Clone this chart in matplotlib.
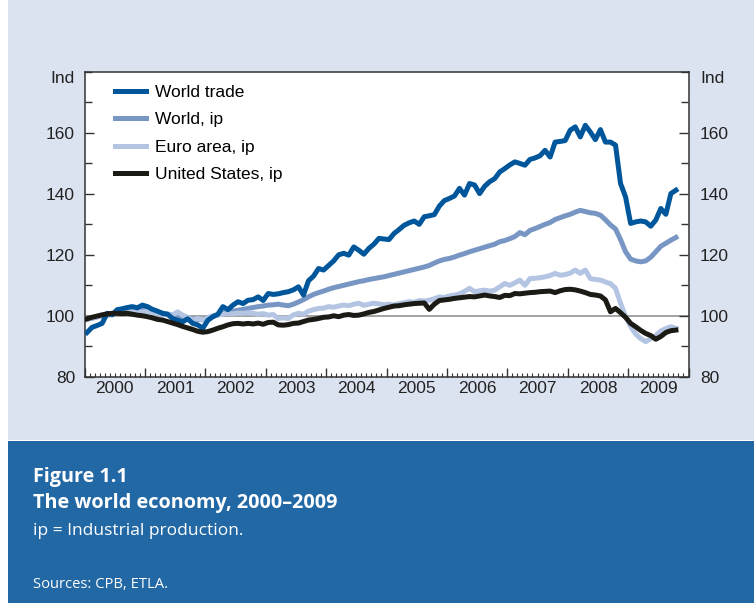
import numpy as np
import matplotlib
matplotlib.use("Agg")
import matplotlib.pyplot as plt
from matplotlib.patches import Rectangle
from matplotlib.ticker import MultipleLocator

plt.rcParams['font.family'] = ['Liberation Sans', 'DejaVu Sans']

# monthly index values, Jan 2000 - Oct 2009
world_trade = [
    94.5, 96.2, 96.8, 97.5, 100.8, 100.3, 102.0, 102.3, 102.7, 103.0, 102.6, 103.5,   # 2000
    103.0, 102.1, 101.5, 100.8, 100.5, 99.1, 98.5, 98.0, 99.0, 97.5, 97.0, 95.9,      # 2001
    98.5, 99.7, 100.5, 103.0, 102.0, 103.5, 104.6, 104.0, 105.1, 105.3, 106.2, 105.0, # 2002
    107.3, 107.0, 107.2, 107.6, 107.9, 108.5, 109.5, 106.8, 111.5, 113.0, 115.5, 115.0,  # 2003
    116.5, 118.0, 120.0, 120.5, 119.9, 122.6, 121.5, 120.2, 122.1, 123.5, 125.4, 125.2,  # 2004
    125.0, 127.0, 128.3, 129.7, 130.5, 131.1, 130.0, 132.5, 132.8, 133.2, 136.0, 137.8,  # 2005
    138.5, 139.3, 141.8, 139.6, 143.4, 142.9, 140.1, 142.5, 144.0, 145.0, 147.2, 148.3,  # 2006
    149.5, 150.5, 150.0, 149.4, 151.3, 151.8, 152.5, 154.3, 152.1, 157.0, 157.2, 157.5,  # 2007
    160.9, 162.0, 158.7, 162.5, 160.3, 157.8, 161.1, 157.0, 157.0, 156.0, 143.4, 139.0,  # 2008
    130.3, 130.8, 131.1, 130.8, 129.4, 131.4, 135.2, 133.3, 140.1, 141.2,                # 2009
]
world_ip = [
    98.8, 99.2, 99.6, 100.0, 100.3, 100.6, 100.9, 101.2, 101.5, 101.7, 101.9, 102.0,
    101.8, 101.5, 101.2, 100.8, 100.5, 100.2, 99.8, 99.5, 99.2, 99.0, 98.8, 98.7,
    99.2, 99.7, 100.3, 100.8, 101.2, 101.5, 101.8, 102.1, 102.4, 102.7, 103.0, 103.2,
    103.5, 103.6, 103.8, 103.5, 103.3, 103.8, 104.5, 105.3, 106.2, 107.0, 107.6, 108.1,
    108.7, 109.2, 109.6, 110.0, 110.4, 110.8, 111.2, 111.5, 111.9, 112.2, 112.5, 112.8,
    113.2, 113.6, 114.0, 114.4, 114.8, 115.2, 115.6, 116.0, 116.5, 117.3, 118.0, 118.5,
    118.8, 119.3, 119.9, 120.4, 121.0, 121.5, 122.0, 122.5, 123.0, 123.5, 124.3, 124.7,
    125.3, 126.0, 127.3, 126.6, 128.0, 128.6, 129.3, 130.0, 130.6, 131.6, 132.2, 132.8,
    133.3, 134.0, 134.6, 134.2, 133.8, 133.6, 133.0, 131.5, 129.8, 128.5, 125.0, 121.0,
    118.6, 118.0, 117.7, 118.0, 119.2, 121.0, 122.8, 123.8, 124.8, 125.7,
]
euro_ip = [
    99.0, 99.3, 99.7, 100.2, 100.0, 100.5, 101.0, 101.5, 101.8, 101.3, 101.5, 101.2,
    101.5, 101.0, 100.8, 100.3, 100.6, 100.2, 101.3, 100.2, 99.5, 98.6, 99.1, 98.6,
    99.3, 100.0, 100.2, 100.5, 100.8, 100.6, 100.9, 100.8, 101.0, 100.8, 100.5, 100.7,
    100.2, 100.4, 99.1, 99.3, 99.1, 100.3, 100.8, 100.5, 101.5, 102.0, 102.4, 102.5,
    103.0, 102.8, 103.2, 103.5, 103.3, 103.8, 104.1, 103.4, 103.8, 104.1, 103.9, 103.6,
    103.8, 103.5, 104.0, 104.3, 104.6, 104.4, 105.0, 104.8, 105.1, 105.6, 106.2, 106.0,
    106.5, 106.8, 107.2, 108.0, 109.0, 107.9, 108.2, 108.4, 108.1, 108.4, 109.5, 110.6,
    110.0, 110.8, 111.7, 110.0, 112.2, 112.3, 112.5, 112.8, 113.2, 113.9, 113.3, 113.5,
    114.0, 115.0, 113.9, 115.0, 112.2, 111.9, 111.7, 111.1, 110.5, 109.0, 104.1, 99.7,
    96.5, 94.0, 92.5, 91.5, 92.5, 93.5, 95.0, 95.8, 96.4, 95.9,
]
us_ip = [
    99.0, 99.5, 99.9, 100.3, 100.6, 100.8, 100.8, 100.7, 100.8, 100.5, 100.2, 100.0,
    99.7, 99.3, 98.8, 98.6, 98.1, 97.6, 97.1, 96.5, 96.0, 95.5, 94.9, 94.6,
    94.8, 95.3, 95.9, 96.4, 97.0, 97.4, 97.5, 97.3, 97.5, 97.3, 97.6, 97.2,
    97.8, 97.9, 97.0, 96.9, 97.1, 97.5, 97.6, 98.1, 98.6, 98.8, 99.1, 99.5,
    99.6, 100.0, 99.7, 100.2, 100.4, 100.1, 100.2, 100.6, 101.1, 101.4, 101.9, 102.4,
    102.8, 103.2, 103.3, 103.6, 103.8, 104.0, 104.1, 104.2, 102.1, 103.8, 105.0, 105.2,
    105.4, 105.7, 105.9, 106.1, 106.3, 106.2, 106.5, 106.8, 106.5, 106.3, 106.0, 106.7,
    106.6, 107.3, 107.2, 107.4, 107.6, 107.7, 107.9, 108.0, 108.1, 107.6, 108.2, 108.6,
    108.7, 108.5, 108.1, 107.6, 107.0, 106.8, 106.5, 105.2, 101.3, 102.4, 101.0, 99.5,
    97.5, 96.4, 95.2, 94.2, 93.5, 92.3, 93.2, 94.5, 95.1, 95.3,
]
years = list(range(2000, 2010))
y_ticks = [80, 100, 120, 140, 160]

# x positions: mid-month in decimal years
months = np.arange(len(world_trade))
t = 2000 + (months + 0.5) / 12

c_trade = '#00569a'
c_world = '#7896c4'
c_euro = '#b3c5e3'
c_us = '#1c1a14'

fig = plt.figure(figsize=(7.54, 6.03), dpi=100)
fig.patches.append(Rectangle((8 / 754, 163 / 603), 1, 1, transform=fig.transFigure,
                             facecolor='#dce3f0', edgecolor='none', zorder=-10))
fig.patches.append(Rectangle((8 / 754, 0), 1, 162 / 603, transform=fig.transFigure,
                             facecolor='#2268a5', edgecolor='none', zorder=-10))

ax = fig.add_axes([84.5 / 754, 226.3 / 603, 604 / 754, 304.7 / 603])
ax.set_facecolor('white')

ax.axhline(100, color='#8a8a8a', lw=1.1, zorder=1)
lw = 3.6
l_world, = ax.plot(t, world_ip, color=c_world, lw=lw, solid_joinstyle='round', zorder=2)
l_euro, = ax.plot(t, euro_ip, color=c_euro, lw=lw, solid_joinstyle='round', zorder=3)
l_trade, = ax.plot(t, world_trade, color=c_trade, lw=lw, solid_joinstyle='round', zorder=4)
l_us, = ax.plot(t, us_ip, color=c_us, lw=lw, solid_joinstyle='round', zorder=5)

ax.set_xlim(2000, 2010)
ax.set_ylim(80, 180)

for s in ax.spines.values():
    s.set_color('#333333')
    s.set_linewidth(1.1)

# x axis: year boundary ticks, monthly minor ticks, labels mid-year
ax.set_xticks(years + [2010])
ax.xaxis.set_minor_locator(MultipleLocator(1 / 12))
ax.tick_params(axis='x', which='major', direction='in', length=6.5, width=1.0,
               color='#333333', labelbottom=False)
ax.tick_params(axis='x', which='minor', direction='in', length=3, width=0.8,
               color='#333333')
sec = ax.secondary_xaxis('bottom')
sec.set_xticks([y + 0.5 for y in years], labels=[str(y) for y in years])
sec.tick_params(length=0, pad=3, labelsize=12.5, colors='#222222')
sec.spines['bottom'].set_visible(False)

# y axes on both sides
ax.set_yticks(y_ticks)
ax.yaxis.set_minor_locator(MultipleLocator(10))
ax.tick_params(axis='y', which='major', direction='in', length=6.5, width=1.0,
               color='#333333', labelsize=12.5, labelcolor='#222222', pad=6.8)
ax.tick_params(axis='y', which='minor', direction='in', length=5, width=1.0,
               color='#333333')
ax2 = ax.twinx()
ax2.set_ylim(80, 180)
ax2.set_yticks(y_ticks)
ax2.yaxis.set_minor_locator(MultipleLocator(10))
ax2.tick_params(axis='y', which='major', direction='in', length=6.5, width=1.0,
                color='#333333', labelsize=12.5, labelcolor='#222222', pad=8.3)
ax2.tick_params(axis='y', which='minor', direction='in', length=5, width=1.0,
                color='#333333')
for s in ax2.spines.values():
    s.set_visible(False)

ax.text(-0.0157, 0.98, 'Ind', transform=ax.transAxes, ha='right', va='center',
        fontsize=12.5, color='#222222')
ax.text(1.019, 0.98, 'Ind', transform=ax.transAxes, ha='left', va='center',
        fontsize=12.5, color='#222222')

ax.legend([l_trade, l_world, l_euro, l_us],
          ['World trade', 'World, ip', 'Euro area, ip', 'United States, ip'],
          loc='upper left', bbox_to_anchor=(0.0505, 0.959), frameon=False,
          fontsize=12.5, handlelength=1.78, handletextpad=0.52, labelspacing=0.71,
          borderpad=0, borderaxespad=0)

# caption block
cap_font = ['Open Sans', 'DejaVu Sans']
fig.text(33 / 754, 0.2012, 'Figure 1.1', color='white', fontsize=14.2, fontweight='bold',
         family=cap_font, va='baseline')
fig.text(33 / 754, 0.157, 'The world economy, 2000\u20132009', color='white', fontsize=14.3,
         fontweight='bold', family=cap_font, va='baseline')
fig.text(33 / 754, 0.1128, 'ip = Industrial production.', color='white', fontsize=12.5,
         family=cap_font, va='baseline')
fig.text(33 / 754, 0.0244, 'Sources: CPB, ETLA.', color='white', fontsize=10.6,
         family=cap_font, va='baseline')

fig.savefig('out.png', dpi=100, facecolor='white')
